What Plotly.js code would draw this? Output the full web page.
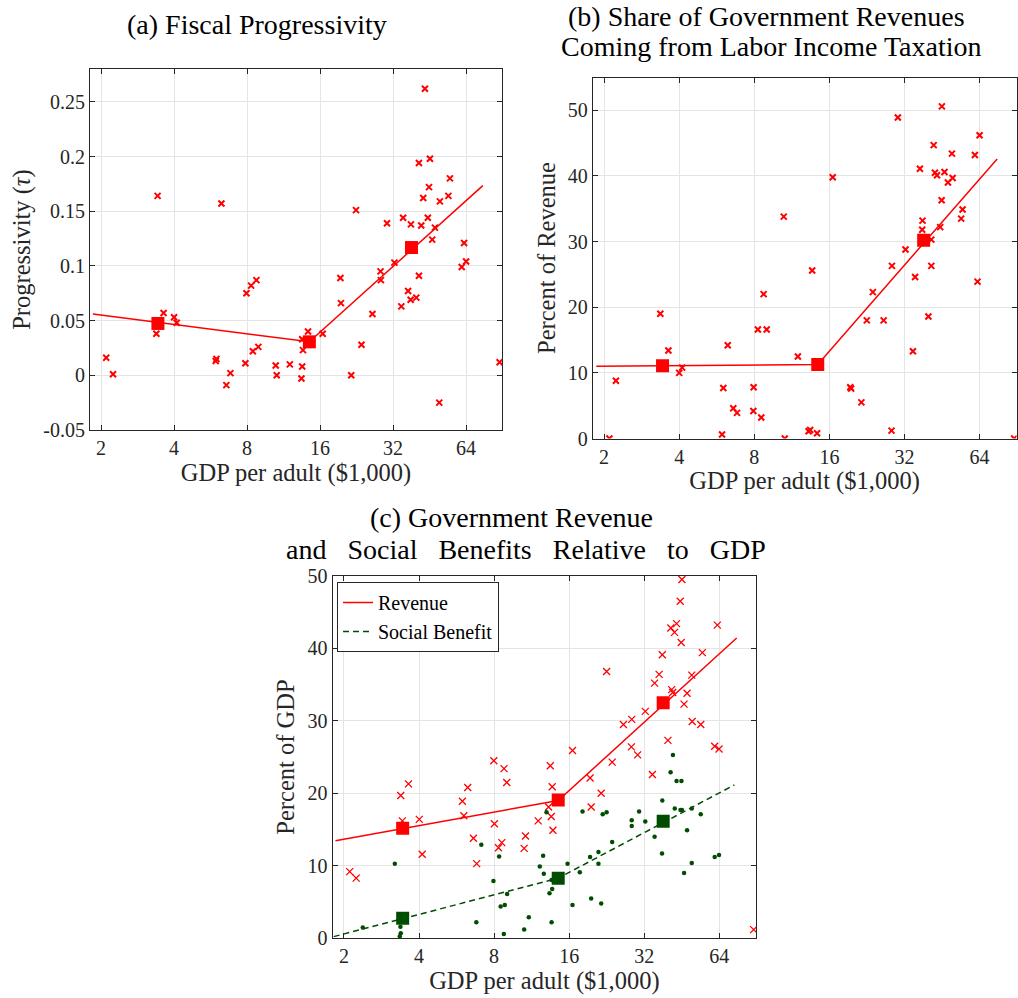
<!DOCTYPE html>
<html>
<head>
<meta charset="utf-8">
<script src="https://cdn.plot.ly/plotly-3.0.1.min.js"></script>
<style>html,body{margin:0;padding:0;background:#fff;}#chart{width:1018px;height:998px;}</style>
</head>
<body>
<div id="chart"></div>
<script>
// ---------- Data ----------
const xTickVals = [2, 4, 8, 16, 32, 64];
const xTickText = ['2', '4', '8', '16', '32', '64'];

// (a) Fiscal progressivity
const progGdp = [2.10,2.24,3.42,3.38,3.62,4.00,4.10,6.27,5.98,5.94,6.83,6.57,7.95,8.31,8.74,7.87,8.45,8.90,
  10.5,10.6,12.0,13.5,13.6,13.5,13.4,14.27,16.4,21.5,23.7,19.4,19.5,22.5,26.3,28.4,28.5,30.2,32.4,34.6,35.2,36.9,
  37.9,37.8,39.9,40.9,40.9,41.8,42.6,43.3,44.5,45.0,45.4,46.4,47.6,49.6,49.9,54.1,54.9,61.4,62.8,64.0,88.0];
const progVal = [0.016,0.001,0.164,0.038,0.057,0.053,0.048,0.157,0.015,0.013,0.002,-0.009,0.075,0.082,0.087,0.011,0.022,0.026,
  0.009,0.000,0.010,0.033,0.023,0.008,-0.003,0.040,0.038,0.000,0.028,0.089,0.066,0.151,0.056,0.095,0.087,0.139,0.103,0.063,0.144,0.077,
  0.138,0.069,0.071,0.091,0.194,0.137,0.162,0.262,0.144,0.172,0.198,0.124,0.135,-0.025,0.159,0.164,0.180,0.099,0.121,0.104,0.012];
const progFitGdp = [1.85, 14.45, 75];
const progFitVal = [0.056, 0.0306, 0.1734];
const progBinGdp = [3.43, 14.45, 38.1];
const progBinVal = [0.0474, 0.0306, 0.1168];

// (b) Labor income tax share of revenue
const laborGdp = [2.10,2.23,3.36,3.62,4.00,4.11,5.94,6.01,6.26,6.59,6.82,7.95,7.93,8.53,8.27,8.97,8.72,10.5,10.6,11.96,
  13.2,13.4,14.28,13.65,16.5,19.4,19.56,21.5,22.6,23.9,26.4,28.5,28.4,30.1,32.3,34.6,35.3,36.9,37.8,37.7,41.0,41.0,39.9,
  41.9,42.4,43.2,44.5,45.1,45.2,46.3,47.8,49.6,49.9,54.0,54.7,61.3,62.8,64.0,88.1];
const laborShare = [0,8.8,19.0,13.4,10.0,10.8,0.6,7.7,14.2,4.6,3.9,7.8,4.2,3.2,16.6,16.6,22.0,33.8,0,12.5,
  1.1,1.3,0.8,25.6,39.8,7.8,7.6,5.5,18.0,22.3,18.0,26.3,1.2,48.9,28.8,13.3,24.6,41.1,33.2,31.8,30.3,26.3,18.6,
  44.7,40.5,40.1,32.2,36.3,50.6,40.6,39.0,43.4,39.7,33.5,34.9,43.2,23.9,46.2,0];
const laborFitGdp = [1.86, 14.37, 75.3];
const laborFitVal = [11.0, 11.27, 42.6];
const laborBinGdp = [3.43, 14.37, 38.2];
const laborBinVal = [11.07, 11.27, 30.2];

// (c) Revenue and social benefits (% of GDP)
const revGdp = [2.11,2.24,3.38,3.63,3.43,4.01,4.12,5.97,6.27,6.05,6.61,6.81,7.98,8.77,8.99,8.02,8.33,8.59,10.56,10.69,12.02,
  13.44,13.68,13.23,13.56,13.77,16.5,19.4,19.6,21.5,22.6,23.8,26.4,28.5,28.4,30.1,32.3,34.5,35.2,36.7,37.8,39.8,40.9,41.2,41.6,
  42.3,43.1,44.6,45.0,45.3,46.2,47.5,49.6,49.8,53.9,54.7,61.3,63.8,62.8,87.8];
const revVal = [9.2,8.3,19.7,21.3,16.2,16.4,11.6,18.9,20.8,16.9,13.8,10.3,24.5,23.4,21.5,15.8,12.5,13.2,12.4,14.1,16.2,
  23.8,20.9,18.1,16.8,14.9,25.9,22.1,18.1,20.0,36.8,24.3,29.5,30.2,26.4,25.3,31.3,22.6,35.2,36.4,39.1,27.3,42.8,34.3,33.9,
  42.2,43.4,46.5,40.8,49.5,32.3,33.8,36.3,29.9,29.5,39.4,26.5,26.1,43.2,1.2];
const benGdp = [2.38,3.20,3.35,3.38,3.37,6.79,7.11,7.95,8.38,9.02,8.83,8.50,8.75,10.56,11.02,12.2,12.58,12.66,12.98,13.34,
  13.68,13.6,13.6,15.76,16.5,17.65,18.1,19.4,19.6,20.96,20.96,21.5,21.8,22.6,23.8,28.5,28.5,30.5,32.3,35.2,37.7,37.8,
  40.8,41.7,42.4,43.1,44.7,45.1,45.3,47.5,46.2,49.6,49.6,53.9,61.3,63.8];
const benVal = [1.5,10.3,0.3,0.7,1.6,2.2,12.9,7.9,11.3,6.1,4.6,4.4,0.6,1.2,2.9,9.9,11.4,8.9,17.4,6.2,
  6.8,2.2,8.05,10.3,4.6,9.1,17.5,11.2,5.5,11.9,10.3,4.8,17.1,17.4,13.3,16.3,15.5,17.5,16.1,14.0,11.7,19.0,
  22.9,25.3,17.9,21.7,17.7,21.7,17.7,14.9,9.0,17.9,10.4,17.1,11.2,11.5];
const revFitGdp = [1.85, 14.46, 75.1];
const revFitVal = [13.47, 19.0, 41.43];
const benFitGdp = [1.82, 14.46, 73.5];
const benFitVal = [0.23, 8.3, 21.15];
const revBinGdp = [3.44, 14.46, 38.1];
const revBinVal = [15.17, 19.08, 32.5];
const benBinGdp = [3.44, 14.46, 38.1];
const benBinVal = [2.76, 8.28, 16.14];

// ---------- Styling ----------
const FONT = "'Liberation Serif', 'Times New Roman', Times, serif";
const RED = '#ff0000';
const GREEN = '#004d00';
const AXC = '#262626';
const W = 1018, H = 998;
const px = v => v / W;
const py = v => 1 - v / H;

function xMark(size, width) {
  return {symbol: 'x-thin', size: size, color: RED, line: {color: RED, width: width}};
}
const sq = c => ({symbol: 'square', size: 13, color: c, line: {width: 0}});

const traces = [
  // (a)
  {x: progGdp, y: progVal, xaxis: 'x', yaxis: 'y', mode: 'markers', marker: xMark(6, 2), showlegend: false},
  {x: progFitGdp, y: progFitVal, xaxis: 'x', yaxis: 'y', mode: 'lines', line: {color: RED, width: 1.5}, showlegend: false},
  {x: progBinGdp, y: progBinVal, xaxis: 'x', yaxis: 'y', mode: 'markers', marker: sq(RED), showlegend: false},
  // (b)
  {x: laborGdp, y: laborShare, xaxis: 'x2', yaxis: 'y2', mode: 'markers', marker: xMark(6, 2), showlegend: false},
  {x: laborFitGdp, y: laborFitVal, xaxis: 'x2', yaxis: 'y2', mode: 'lines', line: {color: RED, width: 1.5}, showlegend: false},
  {x: laborBinGdp, y: laborBinVal, xaxis: 'x2', yaxis: 'y2', mode: 'markers', marker: sq(RED), showlegend: false},
  // (c)
  {x: revGdp, y: revVal, xaxis: 'x3', yaxis: 'y3', mode: 'markers', marker: xMark(7, 1.3), showlegend: false},
  {x: benGdp, y: benVal, xaxis: 'x3', yaxis: 'y3', mode: 'markers', marker: {symbol: 'circle', size: 4.5, color: GREEN}, showlegend: false},
  {x: revFitGdp, y: revFitVal, xaxis: 'x3', yaxis: 'y3', mode: 'lines', name: 'Revenue', line: {color: RED, width: 1.5}},
  {x: benFitGdp, y: benFitVal, xaxis: 'x3', yaxis: 'y3', mode: 'lines', name: 'Social Benefit', line: {color: GREEN, width: 1.5, dash: '6px,4px'}},
  {x: revBinGdp, y: revBinVal, xaxis: 'x3', yaxis: 'y3', mode: 'markers', marker: sq(RED), showlegend: false},
  {x: benBinGdp, y: benBinVal, xaxis: 'x3', yaxis: 'y3', mode: 'markers', marker: sq(GREEN), showlegend: false}
];

function xAxis(domain, anchor) {
  return {
    domain: domain, anchor: anchor, type: 'log', range: [Math.log10(1.8), Math.log10(90)],
    tickvals: xTickVals, ticktext: xTickText, ticks: 'inside', ticklen: 5, tickcolor: AXC,
    showline: true, linecolor: AXC, linewidth: 1, mirror: 'ticks',
    showgrid: true, gridcolor: '#e4e4e4', gridwidth: 1, zeroline: false,
    tickfont: {family: FONT, size: 20, color: AXC},
    title: {text: 'GDP per adult ($1,000)', font: {family: FONT, size: 24.5, color: AXC}, standoff: 3},
    automargin: false
  };
}
function yAxis(domain, anchor, range, vals, text, title) {
  return {
    domain: domain, anchor: anchor, range: range, tickvals: vals, ticktext: text,
    ticks: 'inside', ticklen: 5, tickcolor: AXC,
    showline: true, linecolor: AXC, linewidth: 1, mirror: 'ticks',
    showgrid: true, gridcolor: '#e4e4e4', gridwidth: 1, zeroline: false,
    tickfont: {family: FONT, size: 20, color: AXC},
    title: {text: title, font: {family: FONT, size: 24.5, color: AXC}, standoff: 5},
    automargin: false
  };
}

const progTicks = [-0.05, 0, 0.05, 0.1, 0.15, 0.2, 0.25];
const progTickText = ['-0.05', '0', '0.05', '0.1', '0.15', '0.2', '0.25'];
const pctTicks = [0, 10, 20, 30, 40, 50];
const pctTickText = ['0', '10', '20', '30', '40', '50'];

const nb = '\u00a0\u00a0\u00a0';
const titleFont = {family: FONT, size: 28, color: '#000'};

const layout = {
  width: W, height: H,
  margin: {l: 0, r: 0, t: 0, b: 0},
  paper_bgcolor: '#fff', plot_bgcolor: '#fff',
  font: {family: FONT, color: AXC},
  xaxis: xAxis([px(90), px(502)], 'y'),
  yaxis: yAxis([py(430), py(69)], 'x', [-0.05, 0.28], progTicks, progTickText, 'Progressivity (<i>τ</i>)'),
  xaxis2: xAxis([px(592.7), px(1016.5)], 'y2'),
  yaxis2: yAxis([py(438.5), py(77.5)], 'x2', [0, 55], pctTicks, pctTickText, 'Percent of Revenue'),
  xaxis3: xAxis([px(332.5), px(756.3)], 'y3'),
  yaxis3: yAxis([py(938.3), py(575.8)], 'x3', [0, 50], pctTicks, pctTickText, 'Percent of GDP'),
  showlegend: true,
  legend: {
    x: px(337), y: py(582), xanchor: 'left', yanchor: 'top',
    bgcolor: '#fff', bordercolor: AXC, borderwidth: 1,
    font: {family: FONT, size: 20, color: '#000'}, tracegroupgap: 0, itemwidth: 30
  },
  annotations: [
    {text: '(a) Fiscal Progressivity', x: px(256.5), y: py(24), xref: 'paper', yref: 'paper', xanchor: 'center', yanchor: 'middle', showarrow: false, font: titleFont},
    {text: '(b) Share of Government Revenues', x: px(766), y: py(17), xref: 'paper', yref: 'paper', xanchor: 'center', yanchor: 'middle', showarrow: false, font: titleFont},
    {text: 'Coming from Labor Income Taxation', x: px(771.7), y: py(46), xref: 'paper', yref: 'paper', xanchor: 'center', yanchor: 'middle', showarrow: false, font: titleFont},
    {text: '(c) Government Revenue', x: px(511), y: py(517), xref: 'paper', yref: 'paper', xanchor: 'center', yanchor: 'middle', showarrow: false, font: titleFont},
    {text: 'and' + nb + 'Social' + nb + 'Benefits' + nb + 'Relative' + nb + 'to' + nb + 'GDP', x: px(526), y: py(549), xref: 'paper', yref: 'paper', xanchor: 'center', yanchor: 'middle', showarrow: false, font: titleFont}
  ]
};

Plotly.newPlot('chart', traces, layout, {displayModeBar: false, staticPlot: true});
</script>
</body>
</html>
